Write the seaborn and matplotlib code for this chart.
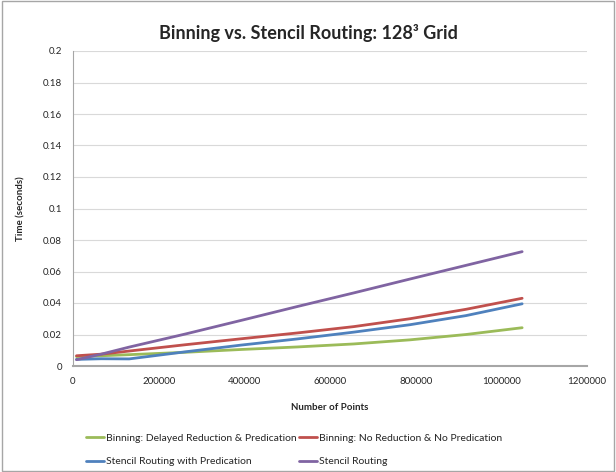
import pandas as pd
import seaborn as sns
import matplotlib.pyplot as plt
from matplotlib.patches import Rectangle
from matplotlib.ticker import FuncFormatter

points = [8192, 65536, 131072, 262144, 393216, 524288, 655360, 786432, 917504, 1048576]
binning_delayed = [0.0060, 0.0065, 0.0072, 0.0087, 0.0105, 0.0121, 0.0140, 0.0166, 0.0200, 0.0243]
binning_none = [0.0065, 0.0075, 0.0095, 0.0135, 0.0173, 0.0210, 0.0250, 0.0300, 0.0360, 0.0430]
stencil_pred = [0.0042, 0.0046, 0.0045, 0.0090, 0.0133, 0.0172, 0.0215, 0.0262, 0.0320, 0.0395]
stencil = [0.0040, 0.0075, 0.0120, 0.0203, 0.0290, 0.0378, 0.0464, 0.0552, 0.0639, 0.0726]

series_names = ['Binning: Delayed Reduction & Predication',
                'Binning: No Reduction & No Predication',
                'Stencil Routing with Predication',
                'Stencil Routing']
series_values = [binning_delayed, binning_none, stencil_pred, stencil]
colors = ['#9BBB59', '#C0504D', '#4F81BD', '#8064A2']

df = pd.concat([pd.DataFrame({'points': points, 'time': v, 'series': n})
                for n, v in zip(series_names, series_values)])

sns.set_style('white')
plt.rcParams['font.family'] = ['Lato', 'DejaVu Sans']

fig = plt.figure(figsize=(6.16, 4.72), dpi=100)
ax = fig.add_axes([73 / 616, 1 - 366 / 472, 514 / 616, 315 / 472])

sns.lineplot(data=df, x='points', y='time', hue='series', hue_order=series_names,
             palette=colors, linewidth=2, ax=ax, legend=False)

ax.set_xlim(0, 1200000)
ax.set_ylim(0, 0.2)
ax.set_xticks(range(0, 1200001, 200000))
ax.set_yticks([i * 0.02 for i in range(11)])
ax.yaxis.set_major_formatter(FuncFormatter(lambda v, p: '0' if v == 0 else f'{v:g}'))
ax.xaxis.set_major_formatter(FuncFormatter(lambda v, p: f'{int(v)}'))
ax.tick_params(labelsize=7, length=0, pad=8)
ax.grid(axis='y', color='#d9d9d9', linewidth=0.8)
ax.set_axisbelow(True)
for s in ['top', 'right']:
    ax.spines[s].set_visible(False)
ax.spines['left'].set_color('#a6a6a6')
ax.spines['bottom'].set_color('#a6a6a6')
ax.spines['bottom'].set_linewidth(1.5)

ax.set_xlabel('Number of Points', fontsize=7, fontweight='bold', labelpad=12)
ax.set_ylabel('Time (seconds)', fontsize=7, fontweight='bold', labelpad=12)
fig.suptitle('Binning vs. Stencil Routing: 128³ Grid', fontsize=13, fontweight='bold', y=0.95)

handles = ax.get_lines()[:4]
order = [0, 2, 1, 3]
fig.legend([handles[i] for i in order], [series_names[i] for i in order],
           ncol=2, loc='lower left', bbox_to_anchor=(0.125, -0.008), frameon=False,
           fontsize=7.5, handlelength=1.7, handletextpad=0.2, columnspacing=0.2,
           labelspacing=1.35)

fig.patches.append(Rectangle((0.003, 0.003), 0.994, 0.994, transform=fig.transFigure,
                             fill=False, edgecolor='#a6a6a6', linewidth=1))

plt.savefig('out.png', dpi=100)
